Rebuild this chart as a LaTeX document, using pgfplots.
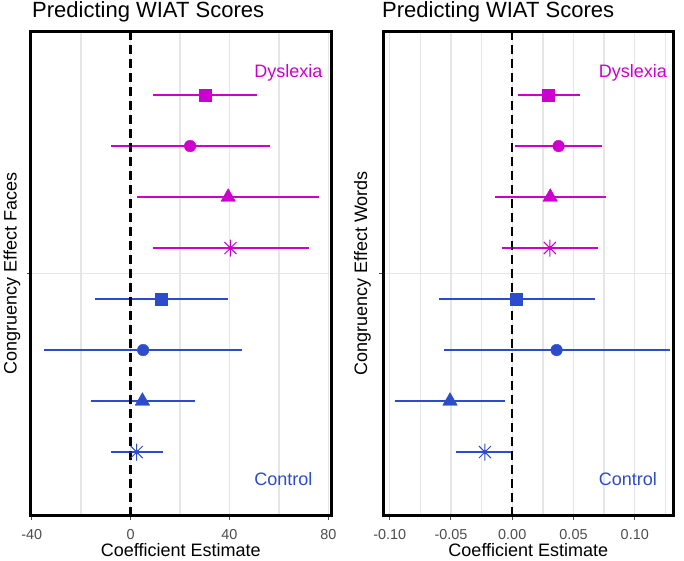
\documentclass[border=0pt]{standalone}
\usepackage{pgfplots}
\pgfplotsset{compat=1.18}
\usepackage{pgfplotstable}
\usepackage{fontspec}
\setmainfont{Liberation Sans}

\definecolor{dys}{RGB}{204,0,204}
\definecolor{ctl}{RGB}{45,75,205}
\definecolor{gridc}{RGB}{230,230,230}
\definecolor{tickc}{RGB}{77,77,77}

\newcommand{\ttl}{\fontsize{22}{24}\selectfont}
\newcommand{\lbl}{\fontsize{18}{21}\selectfont}
\newcommand{\tck}{\fontsize{14.4}{17}\selectfont}

% asterisk with 8 spokes (plus and cross)
\pgfdeclareplotmark{ast8}{%
  \pgfpathmoveto{\pgfqpoint{0pt}{\pgfplotmarksize}}%
  \pgfpathlineto{\pgfqpoint{0pt}{-\pgfplotmarksize}}%
  \pgfpathmoveto{\pgfqpoint{\pgfplotmarksize}{0pt}}%
  \pgfpathlineto{\pgfqpoint{-\pgfplotmarksize}{0pt}}%
  \pgfpathmoveto{\pgfqpoint{0.707\pgfplotmarksize}{0.707\pgfplotmarksize}}%
  \pgfpathlineto{\pgfqpoint{-0.707\pgfplotmarksize}{-0.707\pgfplotmarksize}}%
  \pgfpathmoveto{\pgfqpoint{-0.707\pgfplotmarksize}{0.707\pgfplotmarksize}}%
  \pgfpathlineto{\pgfqpoint{0.707\pgfplotmarksize}{-0.707\pgfplotmarksize}}%
  \pgfusepathqstroke}

% faces
\pgfplotstableread{
y est lo hi m
3.5 30.0 9.1 51.0 sq
2.5 24.1 -8.1 56.3 ci
1.5 39.5 2.7 76.1 tr
0.5 40.4 8.9 72.2 st
}\facesD
\pgfplotstableread{
y est lo hi m
-0.5 12.5 -14.3 39.6 sq
-1.5 5.1 -34.9 45.1 ci
-2.5 4.8 -16.2 25.9 tr
-3.5 2.5 -8.1 13.3 st
}\facesC
% words
\pgfplotstableread{
y est lo hi m
3.5 0.0297 0.0046 0.0550 sq
2.5 0.0378 0.0025 0.0729 ci
1.5 0.0310 -0.0138 0.0764 tr
0.5 0.0307 -0.0081 0.0696 st
}\wordsD
\pgfplotstableread{
y est lo hi m
-0.5 0.0036 -0.0600 0.0675 sq
-1.5 0.0362 -0.0560 0.1286 ci
-2.5 -0.0508 -0.0954 -0.0062 tr
-3.5 -0.0223 -0.0457 0.0000 st
}\wordsC

\pgfplotsset{
  panel/.style={
    scale only axis, anchor=south west,
    height=484.5pt, ymin=-4.75, ymax=4.75,
    ytick={0}, yticklabels={},
    xtick pos=left, ytick pos=left,
    tick align=outside, major tick length=4pt, minor tick length=0pt,
    every tick/.style={tickc, line width=1pt},
    axis line style={line width=3pt, black},
    xmajorgrids, xminorgrids, ymajorgrids,
    grid style={gridc, line width=1.3pt},
    minor grid style={gridc, line width=1.3pt},
    xticklabel style={font=\tck, text=tickc, anchor=base, inner sep=0pt, yshift=-19.5pt},
    xlabel={Coefficient Estimate},
    xlabel style={font=\lbl, inner sep=0pt, at={(axis description cs:0.5,0)}, anchor=base, yshift=-41pt},
  },
  ebar/.style={only marks, mark=none, #1,
    error bars/.cd, x dir=both, x explicit, error mark=none,
    error bar style={line width=1.6pt, #1}},
  shapes/.style={scatter, only marks, scatter src=explicit symbolic,
    scatter/classes={
      sq={mark=square*, #1, mark size=6pt, line width=0.4pt},
      ci={mark=*, #1, mark size=5.8pt, line width=0.4pt},
      tr={mark=triangle*, #1, mark size=8.4pt, line width=0.4pt},
      st={mark=ast8, #1, mark size=8.5pt, line width=1pt}}},
  zeroline/.style={black, line width=2.4pt, dash pattern=on 9pt off 5pt},
}

\begin{document}
\begin{tikzpicture}
\useasboundingbox (0,0) rectangle (684pt,560pt);

\begin{axis}[panel, name=left, at={(30.7pt,44.2pt)}, width=300.3pt,
  xmin=-40.4, xmax=81.1,
  xtick={-40,0,40,80}, xticklabels={-40,0,40,80},
  minor xtick={-20,20,60}]
\addplot[ebar=dys] table[x=est, y=y,
  x error plus expr=\thisrow{hi}-\thisrow{est},
  x error minus expr=\thisrow{est}-\thisrow{lo}] {\facesD};
\addplot[ebar=ctl] table[x=est, y=y,
  x error plus expr=\thisrow{hi}-\thisrow{est},
  x error minus expr=\thisrow{est}-\thisrow{lo}] {\facesC};
\addplot[zeroline] coordinates {(0,-4.75) (0,4.75)};
\addplot[shapes=dys] table[x=est, y=y, meta=m] {\facesD};
\addplot[shapes=ctl] table[x=est, y=y, meta=m] {\facesC};
\node[anchor=base west, inner sep=0pt, font=\lbl, text=dys] at (axis cs:50,3.85) {Dyslexia};
\node[anchor=base west, inner sep=0pt, font=\lbl, text=ctl] at (axis cs:50,-4.16) {Control};
\end{axis}

\begin{axis}[panel, name=right, at={(383pt,44.2pt)}, width=290.7pt,
  xmin=-0.1055, xmax=0.1318,
  xtick={-0.10,-0.05,0,0.05,0.10}, xticklabels={-0.10,-0.05,0.00,0.05,0.10},
  minor xtick={-0.075,-0.025,0.025,0.075,0.125}]
\addplot[ebar=dys] table[x=est, y=y,
  x error plus expr=\thisrow{hi}-\thisrow{est},
  x error minus expr=\thisrow{est}-\thisrow{lo}] {\wordsD};
\addplot[ebar=ctl] table[x=est, y=y,
  x error plus expr=\thisrow{hi}-\thisrow{est},
  x error minus expr=\thisrow{est}-\thisrow{lo}] {\wordsC};
\addplot[zeroline] coordinates {(0,-4.75) (0,4.75)};
\addplot[shapes=dys] table[x=est, y=y, meta=m] {\wordsD};
\addplot[shapes=ctl] table[x=est, y=y, meta=m] {\wordsC};
\node[anchor=base west, inner sep=0pt, font=\lbl, text=dys] at (axis cs:0.0705,3.85) {Dyslexia};
\node[anchor=base west, inner sep=0pt, font=\lbl, text=ctl] at (axis cs:0.0705,-4.16) {Control};
\end{axis}

% titles and y labels
\node[anchor=base west, inner sep=0pt, font=\ttl] at (32pt,542.5pt) {Predicting WIAT Scores};
\node[anchor=base west, inner sep=0pt, font=\ttl] at (382pt,542.5pt) {Predicting WIAT Scores};
\node[rotate=90, anchor=base, inner sep=0pt, font=\lbl] at (16.5pt,286.5pt) {Congruency Effect Faces};
\node[rotate=90, anchor=base, inner sep=0pt, font=\lbl] at (367pt,286.5pt) {Congruency Effect Words};
\end{tikzpicture}
\end{document}
